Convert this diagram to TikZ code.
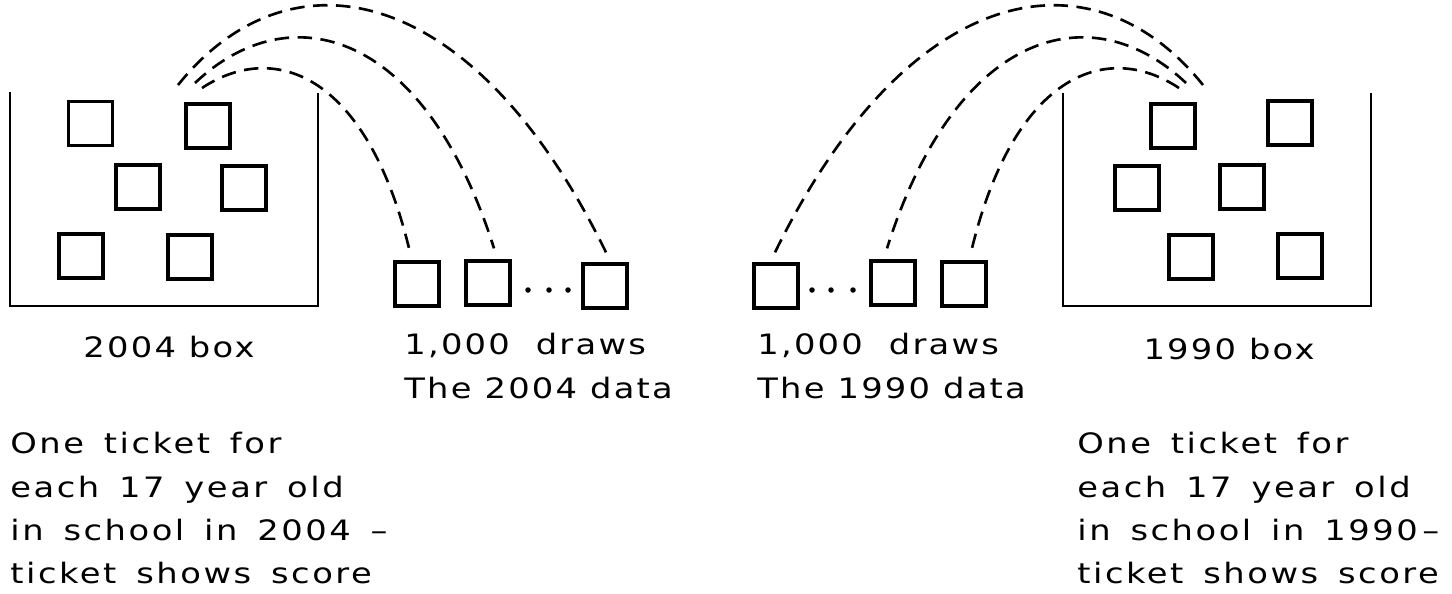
\documentclass[tikz,border=0pt]{standalone}
\usepackage{fontspec}
\setmainfont{DejaVu Sans}[FakeStretch=1.2,LetterSpace=8]
\newfontfamily\notefont{DejaVu Sans}[Ligatures=TeX,FakeStretch=1.2,LetterSpace=9,WordSpace=1.5]
\usetikzlibrary{positioning}

\tikzset{
  ticket/.style={draw,line width=1.9pt,minimum width=0.88cm,minimum height=0.88cm,inner sep=0pt},
  bucket/.style={line width=1.5pt},
  throw/.style={line width=1.5pt,dash pattern=on 0.29cm off 0.17cm},
  hand/.style={inner sep=0pt,font=\fontsize{16}{24.7}\selectfont,align=left},
  note/.style={hand,font=\notefont\fontsize{16}{24.7}\selectfont}
}

\begin{document}
\begin{tikzpicture}[x=0.02cm,y=-0.02cm]
\useasboundingbox (0,0) rectangle (1452,593);

% the two boxes
\draw[bucket] (10,92) -- (10,306) -- (318,306) -- (318,93);
\draw[bucket] (1063,93) -- (1063,306) -- (1371,306) -- (1371,93);

% tickets in the boxes
\foreach \n/\x/\y in {1/90.5/123.5,2/208/126,3/138/187,4/244/188,5/81/256,6/190/257}
  \node[ticket] (l\n) at (\x,\y) {};
\foreach \n/\x/\y in {1/1173/126,2/1290/123,3/1137/188,4/1242/187,5/1191/257,6/1300/256}
  \node[ticket] (r\n) at (\x,\y) {};

% the draws
\node[ticket] (d1) at (417,284) {};
\node[ticket] (d2) at (488,283) {};
\node[ticket] (d3) at (605,286) {};
\node[ticket] (e1) at (776,286) {};
\node[ticket] (e2) at (893,283) {};
\node[ticket] (e3) at (964,284) {};
\foreach \x in {528,549,568,812,831,853}
  \fill (\x,290) circle (0.055cm);

% where the tickets leave the boxes
\coordinate (outL) at (178,85);
\coordinate (midL) at (195,83);
\coordinate (inL) at (202,88);
\coordinate (outR) at (1203,85);
\coordinate (midR) at (1186,83);
\coordinate (inR) at (1179,88);

\draw[throw] (outL) .. controls +(112.5,-140) and +(-132,-270) .. ([xshift=0.02cm,yshift=0.2cm]d3.north);
\draw[throw] (midL) .. controls +(95,-90) and +(-69,-218.5) .. ([xshift=0.12cm,yshift=0.22cm]d2.north);
\draw[throw] (inL) .. controls +(75,-49.5) and +(-41.4,-174.6) .. ([xshift=-0.14cm,yshift=0.16cm]d1.north);
\draw[throw] (outR) .. controls +(-112.5,-140) and +(132,-270) .. ([xshift=-0.02cm,yshift=0.2cm]e1.north);
\draw[throw] (midR) .. controls +(-95,-90) and +(69,-218.5) .. ([xshift=-0.12cm,yshift=0.22cm]e2.north);
\draw[throw] (inR) .. controls +(-75,-49.5) and +(41.4,-174.6) .. ([xshift=0.14cm,yshift=0.16cm]e3.north);

% labels
\node[hand,anchor=base] (boxL) at (169,357) {2004 box};
\node[hand,anchor=north west] (drawsL) at (404,333) {1,000\ \ draws\\The 2004 data};
\node[note,anchor=north west] (noteL) at (10,432) {One ticket for\\each 17 year old\\in school in 2004 –\\ticket shows score};
\node[hand,anchor=base] (boxR) at (1229,359) {1990 box};
\node[hand,anchor=north west] (drawsR) at (757,333) {1,000\ \ draws\\The 1990 data};
\node[note,anchor=north west] (noteR) at (1077,432) {One ticket for\\each 17 year old\\in school in 1990\,–\\ticket shows score};
\end{tikzpicture}
\end{document}
